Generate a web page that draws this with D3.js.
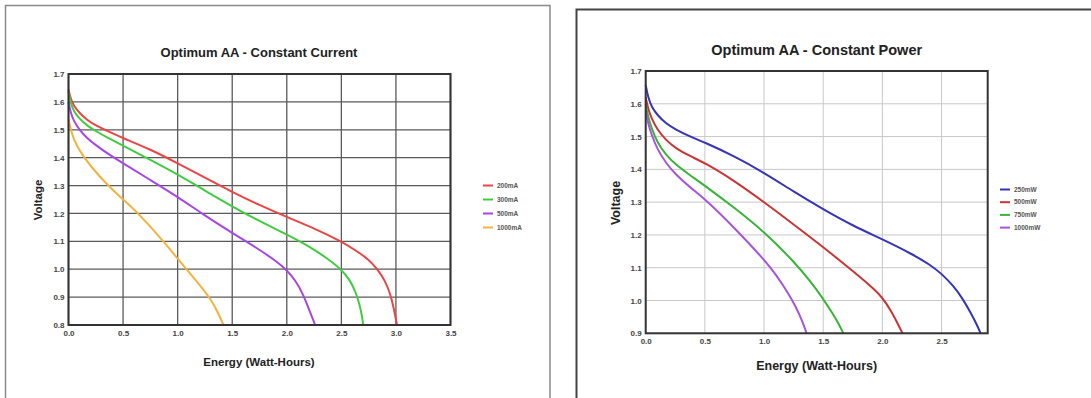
<!DOCTYPE html>
<html><head><meta charset="utf-8">
<script src="https://cdn.jsdelivr.net/npm/d3@7"></script>
<style>body{margin:0;background:#fff}svg{display:block}</style>
</head><body>
<svg id="c" width="1091" height="398"></svg>
<script>
// ---------- DATA ----------
const currentTitle = "Optimum AA - Constant Current";
const currentSeries = ["200mA", "300mA", "500mA", "1000mA"];
const currentColors = ["#ea4545", "#40cc40", "#a646e6", "#f2b440"];
const currentXTicks = [0, 0.5, 1.0, 1.5, 2.0, 2.5, 3.0, 3.5];
const currentYTicks = [0.8, 0.9, 1.0, 1.1, 1.2, 1.3, 1.4, 1.5, 1.6, 1.7];
const cur200 = [[0,1.645],[0.02,1.61],[0.05,1.585],[0.1,1.56],[0.17,1.535],[0.25,1.515],[0.375,1.492],[0.5,1.47],[0.75,1.43],[1.0,1.38],[1.25,1.328],[1.5,1.277],[1.75,1.23],[2.0,1.187],[2.25,1.147],[2.5,1.10],[2.65,1.063],[2.75,1.035],[2.83,1.0],[2.9,0.96],[2.95,0.91],[2.98,0.86],[3.0,0.82],[3.01,0.80]];
const cur300 = [[0,1.635],[0.02,1.595],[0.05,1.565],[0.1,1.54],[0.17,1.515],[0.25,1.495],[0.375,1.468],[0.5,1.443],[0.75,1.392],[1.0,1.34],[1.25,1.282],[1.5,1.225],[1.75,1.172],[2.0,1.125],[2.2,1.083],[2.35,1.045],[2.5,1.0],[2.58,0.96],[2.63,0.92],[2.67,0.87],[2.69,0.83],[2.7,0.80]];
const cur500 = [[0,1.60],[0.02,1.56],[0.05,1.53],[0.1,1.50],[0.17,1.47],[0.25,1.445],[0.375,1.41],[0.5,1.38],[0.75,1.32],[1.0,1.26],[1.25,1.192],[1.5,1.13],[1.75,1.07],[1.9,1.03],[2.0,0.997],[2.08,0.96],[2.15,0.91],[2.2,0.86],[2.24,0.82],[2.26,0.80]];
const cur1000 = [[0,1.54],[0.02,1.50],[0.05,1.465],[0.1,1.425],[0.2,1.37],[0.35,1.305],[0.5,1.25],[0.65,1.197],[0.87,1.10],[1.08,1.0],[1.2,0.945],[1.3,0.895],[1.37,0.845],[1.42,0.80]];

const powerTitle = "Optimum AA - Constant Power";
const powerSeries = ["250mW", "500mW", "750mW", "1000mW"];
const powerColors = ["#3535b5", "#c83535", "#38b438", "#a655dc"];
const powerXTicks = [0, 0.5, 1.0, 1.5, 2.0, 2.5];
const powerYTicks = [0.9, 1.0, 1.1, 1.2, 1.3, 1.4, 1.5, 1.6, 1.7];
const pow250 = [[0,1.657],[0.02,1.62],[0.05,1.59],[0.1,1.565],[0.17,1.54],[0.25,1.522],[0.375,1.50],[0.5,1.482],[0.75,1.44],[1.0,1.39],[1.25,1.332],[1.5,1.278],[1.75,1.228],[2.0,1.187],[2.25,1.142],[2.4,1.11],[2.5,1.082],[2.6,1.045],[2.68,1.005],[2.75,0.96],[2.8,0.925],[2.83,0.90]];
const pow500 = [[0,1.62],[0.02,1.585],[0.05,1.555],[0.1,1.52],[0.17,1.49],[0.25,1.465],[0.375,1.44],[0.5,1.42],[0.75,1.365],[1.0,1.30],[1.25,1.232],[1.5,1.163],[1.75,1.09],[1.9,1.045],[2.0,1.01],[2.07,0.97],[2.13,0.93],[2.17,0.90]];
const pow750 = [[0,1.60],[0.02,1.56],[0.05,1.525],[0.1,1.48],[0.17,1.445],[0.25,1.415],[0.375,1.382],[0.5,1.35],[0.75,1.283],[1.0,1.21],[1.25,1.12],[1.4,1.055],[1.5,1.005],[1.58,0.96],[1.63,0.93],[1.67,0.90]];
const pow1000 = [[0,1.58],[0.02,1.54],[0.05,1.505],[0.1,1.46],[0.17,1.42],[0.25,1.385],[0.375,1.345],[0.5,1.31],[0.75,1.222],[1.0,1.125],[1.1,1.08],[1.2,1.025],[1.27,0.98],[1.32,0.94],[1.36,0.90]];

const xLabel = "Energy (Watt-Hours)";
const yLabel = "Voltage";

// ---------- DRAW ----------
const svg = d3.select("#c");

// panel frames
svg.append("path").attr("d","M5.5,420 V5.5 H550 V420").attr("fill","none").attr("stroke","#8a8a8a").attr("stroke-width",1.5);
svg.append("path").attr("d","M576.5,420 V9.5 H1100").attr("fill","none").attr("stroke","#444").attr("stroke-width",2);

function drawPanel(o){
  const g = svg.append("g");
  const x = d3.scaleLinear().domain(o.xDomain).range([o.left, o.right]);
  const y = d3.scaleLinear().domain(o.yDomain).range([o.bottom, o.top]);
  // grid
  g.append("g").selectAll("line").data(o.xTicks).join("line")
    .attr("x1",d=>x(d)).attr("x2",d=>x(d)).attr("y1",o.top).attr("y2",o.bottom)
    .attr("stroke",o.gridColor).attr("stroke-width",o.gridWidth);
  g.append("g").selectAll("line").data(o.yTicks).join("line")
    .attr("x1",o.left).attr("x2",o.right).attr("y1",d=>y(d)).attr("y2",d=>y(d))
    .attr("stroke",o.gridColor).attr("stroke-width",o.gridWidth);
  // curves
  const line = d3.line().x(d=>x(d[0])).y(d=>y(d[1])).curve(d3.curveBasis);
  o.data.forEach((s,i)=>{
    g.append("path").attr("d",line(s)).attr("fill","none")
      .attr("stroke",o.colors[i]).attr("stroke-width",2);
  });
  // frame
  g.append("rect").attr("x",o.left).attr("y",o.top).attr("width",o.right-o.left).attr("height",o.bottom-o.top)
    .attr("fill","none").attr("stroke","#333").attr("stroke-width",2);
  // axes
  const xa = g.append("g").attr("transform",`translate(0,${o.bottom})`)
    .call(d3.axisBottom(x).tickValues(o.xTicks).tickFormat(d3.format(".1f")).tickSize(0).tickPadding(5));
  xa.select(".domain").remove();
  xa.selectAll("text").attr("font-family","Liberation Sans, Arial, sans-serif").attr("font-size",8).attr("font-weight","bold").attr("fill","#444");
  const ya = g.append("g").attr("transform",`translate(${o.left},0)`)
    .call(d3.axisLeft(y).tickValues(o.yTicks).tickFormat(d3.format(".1f")).tickSize(0).tickPadding(4));
  ya.select(".domain").remove();
  ya.selectAll("text").attr("font-family","Liberation Sans, Arial, sans-serif").attr("font-size",8).attr("font-weight","bold").attr("fill","#444");
  // title and labels
  g.append("text").attr("x",o.titleX).attr("y",o.titleY).attr("text-anchor","middle")
    .attr("font-family","Liberation Sans, Arial, sans-serif").attr("font-size",o.titleSize).attr("font-weight","bold").attr("fill","#222")
    .text(o.title);
  g.append("text").attr("x",o.titleX).attr("y",o.xLabelY).attr("text-anchor","middle")
    .attr("font-family","Liberation Sans, Arial, sans-serif").attr("font-size",o.labelSize).attr("font-weight","bold").attr("fill","#222")
    .text(xLabel);
  g.append("text").attr("transform",`translate(${o.yLabelX},${o.yLabelY}) rotate(-90)`).attr("text-anchor","middle")
    .attr("font-family","Liberation Sans, Arial, sans-serif").attr("font-size",o.labelSize).attr("font-weight","bold").attr("fill","#222")
    .text(yLabel);
  // legend
  const lg = g.append("g").selectAll("g").data(o.series).join("g")
    .attr("transform",(d,i)=>`translate(${o.legX},${o.legY + i*o.legStep})`);
  lg.append("line").attr("x1",0).attr("x2",10).attr("stroke",(d,i)=>o.colors[i]).attr("stroke-width",2);
  lg.append("text").attr("x",14).attr("dy","0.35em")
    .attr("font-family","Liberation Sans, Arial, sans-serif").attr("font-size",6.5).attr("font-weight","bold").attr("fill","#555")
    .text(d=>d);
}

drawPanel({
  title: currentTitle, series: currentSeries, colors: currentColors,
  data: [cur200, cur300, cur500, cur1000],
  xDomain:[0,3.5], yDomain:[0.8,1.7], xTicks: currentXTicks, yTicks: currentYTicks,
  left:68.5, right:450.5, top:74, bottom:325,
  gridColor:"#5a5a5a", gridWidth:1.3,
  titleX:259, titleY:56.5, titleSize:13, labelSize:11.5,
  xLabelY:366, yLabelX:42, yLabelY:200,
  legX:483, legY:185.5, legStep:14
});
drawPanel({
  title: powerTitle, series: powerSeries, colors: powerColors,
  data: [pow250, pow500, pow750, pow1000],
  xDomain:[0,2.89], yDomain:[0.9,1.7], xTicks: powerXTicks, yTicks: powerYTicks,
  left:645.7, right:987.7, top:71, bottom:333.3,
  gridColor:"#c8c8c8", gridWidth:1,
  titleX:816.7, titleY:55, titleSize:14.5, labelSize:12.5,
  xLabelY:370, yLabelX:620, yLabelY:203,
  legX:1000, legY:189.5, legStep:12.7
});
</script>
</body></html>
